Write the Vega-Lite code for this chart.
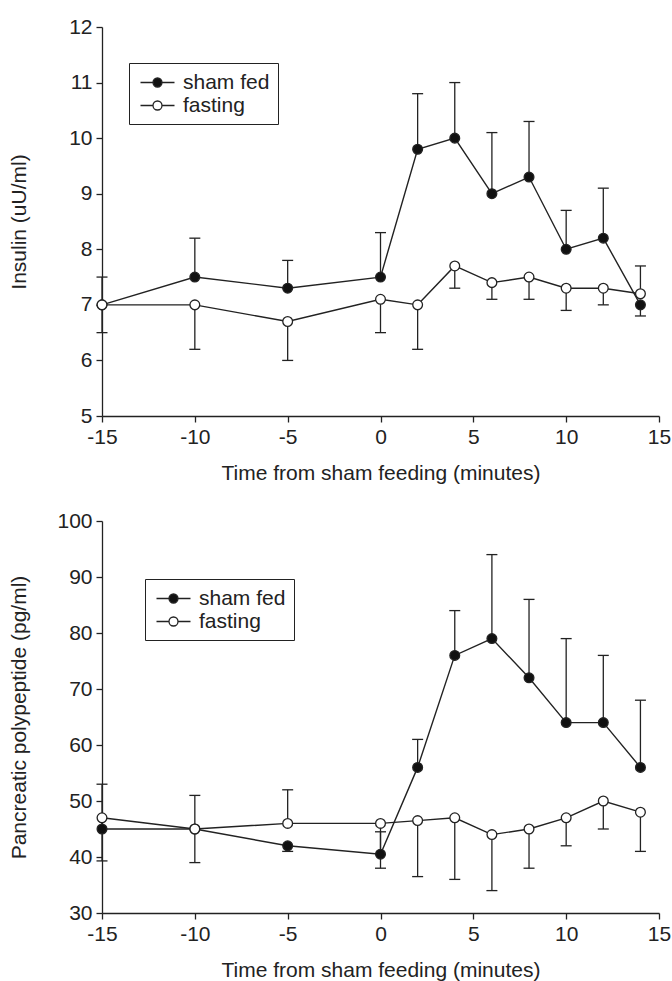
{
  "$schema": "https://vega.github.io/schema/vega-lite/v6.json",
  "padding": {"left": 8, "top": 16, "right": 14, "bottom": 5},
  "background": "white",
  "config": {
    "view": {"stroke": null},
    "font": "Liberation Sans",
    "axis": {
      "grid": false,
      "domainColor": "#222",
      "domainWidth": 1.3,
      "tickColor": "#222",
      "tickWidth": 1.3,
      "tickSize": 6,
      "labelFont": "Liberation Sans",
      "labelFontSize": 21,
      "labelColor": "#222",
      "labelPadding": 4,
      "labelFlush": false,
      "labelExpr": "datum.value < 0 ? '-' + abs(datum.value) : '' + datum.value",
      "titleFont": "Liberation Sans",
      "titleFontSize": 21,
      "titleFontWeight": "normal",
      "titleColor": "#222"
    }
  },
  "datasets": {
    "insulin": [
      {"t": -15, "series": "sham fed", "v": 7.0, "e": 7.5},
      {"t": -10, "series": "sham fed", "v": 7.5, "e": 8.2},
      {"t": -5, "series": "sham fed", "v": 7.3, "e": 7.8},
      {"t": 0, "series": "sham fed", "v": 7.5, "e": 8.3},
      {"t": 2, "series": "sham fed", "v": 9.8, "e": 10.8},
      {"t": 4, "series": "sham fed", "v": 10.0, "e": 11.0},
      {"t": 6, "series": "sham fed", "v": 9.0, "e": 10.1},
      {"t": 8, "series": "sham fed", "v": 9.3, "e": 10.3},
      {"t": 10, "series": "sham fed", "v": 8.0, "e": 8.7},
      {"t": 12, "series": "sham fed", "v": 8.2, "e": 9.1},
      {"t": 14, "series": "sham fed", "v": 7.0, "e": 6.8},
      {"t": -15, "series": "fasting", "v": 7.0, "e": 6.5},
      {"t": -10, "series": "fasting", "v": 7.0, "e": 6.2},
      {"t": -5, "series": "fasting", "v": 6.7, "e": 6.0},
      {"t": 0, "series": "fasting", "v": 7.1, "e": 6.5},
      {"t": 2, "series": "fasting", "v": 7.0, "e": 6.2},
      {"t": 4, "series": "fasting", "v": 7.7, "e": 7.3},
      {"t": 6, "series": "fasting", "v": 7.4, "e": 7.1},
      {"t": 8, "series": "fasting", "v": 7.5, "e": 7.1},
      {"t": 10, "series": "fasting", "v": 7.3, "e": 6.9},
      {"t": 12, "series": "fasting", "v": 7.3, "e": 7.0},
      {"t": 14, "series": "fasting", "v": 7.2, "e": 7.7}
    ],
    "pp": [
      {"t": -15, "series": "sham fed", "v": 45, "e": 53},
      {"t": -10, "series": "sham fed", "v": 45, "e": 51},
      {"t": -5, "series": "sham fed", "v": 42, "e": 41},
      {"t": 0, "series": "sham fed", "v": 40.5, "e": 44.5},
      {"t": 2, "series": "sham fed", "v": 56, "e": 61},
      {"t": 4, "series": "sham fed", "v": 76, "e": 84},
      {"t": 6, "series": "sham fed", "v": 79, "e": 94},
      {"t": 8, "series": "sham fed", "v": 72, "e": 86},
      {"t": 10, "series": "sham fed", "v": 64, "e": 79},
      {"t": 12, "series": "sham fed", "v": 64, "e": 76},
      {"t": 14, "series": "sham fed", "v": 56, "e": 68},
      {"t": -15, "series": "fasting", "v": 47, "e": 39.3},
      {"t": -10, "series": "fasting", "v": 45, "e": 39},
      {"t": -5, "series": "fasting", "v": 46, "e": 52},
      {"t": 0, "series": "fasting", "v": 46, "e": 38},
      {"t": 2, "series": "fasting", "v": 46.5, "e": 36.5},
      {"t": 4, "series": "fasting", "v": 47, "e": 36},
      {"t": 6, "series": "fasting", "v": 44, "e": 34},
      {"t": 8, "series": "fasting", "v": 45, "e": 38},
      {"t": 10, "series": "fasting", "v": 47, "e": 42},
      {"t": 12, "series": "fasting", "v": 50, "e": 45},
      {"t": 14, "series": "fasting", "v": 48, "e": 41}
    ]
  },
  "bounds": "flush",
  "spacing": 105,
  "resolve": {"scale": {"fill": "independent", "y": "independent"}, "legend": {"fill": "independent"}},
  "vconcat": [
    {
      "width": 557,
      "height": 389,
      "data": {"name": "insulin"},
      "encoding": {
        "x": {"field": "t", "type": "quantitative", "scale": {"domain": [-15, 15], "nice": false, "zero": false},
          "axis": {"values": [-15, -10, -5, 0, 5, 10, 15], "title": "Time from sham feeding (minutes)", "titlePadding": 15}}
      },
      "layer": [
        {
          "mark": {"type": "rule", "color": "#222", "strokeWidth": 1.3},
          "encoding": {
            "y": {"field": "v", "type": "quantitative", "scale": {"domain": [5, 12], "nice": false, "zero": false},
              "axis": {"values": [5, 6, 7, 8, 9, 10, 11, 12], "title": "Insulin (uU/ml)", "titleX": -73}},
            "y2": {"field": "e"}
          }
        },
        {
          "mark": {"type": "tick", "orient": "horizontal", "color": "#222", "size": 11, "thickness": 1.3, "opacity": 1},
          "encoding": {"y": {"field": "e", "type": "quantitative"}}
        },
        {
          "mark": {"type": "line", "color": "#222", "strokeWidth": 1.4},
          "encoding": {"y": {"field": "v", "type": "quantitative"}, "detail": {"field": "series"}}
        },
        {
          "mark": {"type": "point", "shape": "circle", "filled": true, "size": 95, "stroke": "#222", "strokeWidth": 1.3, "opacity": 1},
          "encoding": {
            "y": {"field": "v", "type": "quantitative"},
            "fill": {"field": "series", "type": "nominal", "scale": {"domain": ["sham fed", "fasting"], "range": ["#111111", "#ffffff"]},
              "legend": {"orient": "none", "legendX": 27, "legendY": 36, "title": null, "strokeColor": "#222", "fillColor": "white", "padding": 8, "rowPadding": 1,
                "labelFont": "Liberation Sans", "labelFontSize": 21, "labelColor": "#222", "labelOffset": 14,
                "symbolType": "M-1.619,0H-0.4286M0.4286,0H1.619M-0.4286,0A0.4286,0.4286,0,1,1,0.4286,0A0.4286,0.4286,0,1,1,-0.4286,0Z",
                "symbolSize": 441, "symbolOffset": 9, "symbolStrokeColor": "#222", "symbolStrokeWidth": 1.3, "symbolOpacity": 1}}
          }
        }
      ]
    },
    {
      "width": 557,
      "height": 392,
      "data": {"name": "pp"},
      "encoding": {
        "x": {"field": "t", "type": "quantitative", "scale": {"domain": [-15, 15], "nice": false, "zero": false},
          "axis": {"values": [-15, -10, -5, 0, 5, 10, 15], "title": "Time from sham feeding (minutes)", "titlePadding": 15}}
      },
      "layer": [
        {
          "mark": {"type": "rule", "color": "#222", "strokeWidth": 1.3},
          "encoding": {
            "y": {"field": "v", "type": "quantitative", "scale": {"domain": [30, 100], "nice": false, "zero": false},
              "axis": {"values": [30, 40, 50, 60, 70, 80, 90, 100], "title": "Pancreatic polypeptide (pg/ml)", "titleX": -73}},
            "y2": {"field": "e"}
          }
        },
        {
          "mark": {"type": "tick", "orient": "horizontal", "color": "#222", "size": 11, "thickness": 1.3, "opacity": 1},
          "encoding": {"y": {"field": "e", "type": "quantitative"}}
        },
        {
          "mark": {"type": "line", "color": "#222", "strokeWidth": 1.4},
          "encoding": {"y": {"field": "v", "type": "quantitative"}, "detail": {"field": "series"}}
        },
        {
          "mark": {"type": "point", "shape": "circle", "filled": true, "size": 95, "stroke": "#222", "strokeWidth": 1.3, "opacity": 1},
          "encoding": {
            "y": {"field": "v", "type": "quantitative"},
            "fill": {"field": "series", "type": "nominal", "scale": {"domain": ["sham fed", "fasting"], "range": ["#111111", "#ffffff"]},
              "legend": {"orient": "none", "legendX": 43, "legendY": 58, "title": null, "strokeColor": "#222", "fillColor": "white", "padding": 8, "rowPadding": 1,
                "labelFont": "Liberation Sans", "labelFontSize": 21, "labelColor": "#222", "labelOffset": 14,
                "symbolType": "M-1.619,0H-0.4286M0.4286,0H1.619M-0.4286,0A0.4286,0.4286,0,1,1,0.4286,0A0.4286,0.4286,0,1,1,-0.4286,0Z",
                "symbolSize": 441, "symbolOffset": 9, "symbolStrokeColor": "#222", "symbolStrokeWidth": 1.3, "symbolOpacity": 1}}
          }
        }
      ]
    }
  ]
}
